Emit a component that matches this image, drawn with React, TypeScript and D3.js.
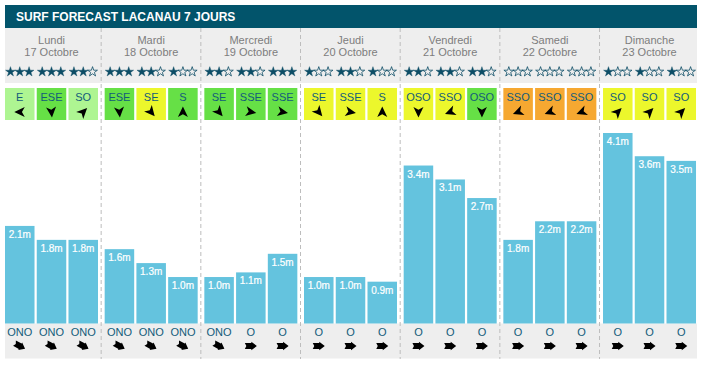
import React from "react";
import * as d3 from "d3";

const title = "SURF FORECAST LACANAU 7 JOURS";
const days = ["Lundi", "Mardi", "Mercredi", "Jeudi", "Vendredi", "Samedi", "Dimanche"];
const dates = ["17 Octobre", "18 Octobre", "19 Octobre", "20 Octobre", "21 Octobre", "22 Octobre", "23 Octobre"];
const slots = [0, 1, 2];
const waveHeights = [2.1, 1.8, 1.8, 1.6, 1.3, 1.0, 1.0, 1.1, 1.5, 1.0, 1.0, 0.9, 3.4, 3.1, 2.7, 1.8, 2.2, 2.2, 4.1, 3.6, 3.5];
const starRatings = [3, 3, 2, 3, 2, 1, 2, 2, 3, 1, 2, 1, 2, 2, 2, 0, 0, 0, 1, 1, 1];
const windDirs = ["E", "ESE", "SO", "ESE", "SE", "S", "SE", "SSE", "SSE", "SE", "SSE", "S", "OSO", "SSO", "OSO", "SSO", "SSO", "SSO", "SO", "SO", "SO"];
const windLevels = [0, 1, 0, 1, 2, 1, 1, 1, 1, 2, 2, 2, 2, 2, 1, 3, 3, 3, 2, 2, 2];
const swellDirs = ["ONO", "ONO", "ONO", "ONO", "ONO", "ONO", "ONO", "O", "O", "O", "O", "O", "O", "O", "O", "O", "O", "O", "O", "O", "O"];

const windArrowAngle: Record<string, number> = { E: 270, ESE: 175, SE: 140, S: 0, SSE: 100, OSO: 180, SSO: 250, SO: 45 };
const swellArrowAngle: Record<string, number> = { O: 0, ONO: 28 };
const windColors = ["#aef592", "#66e046", "#ecf72c", "#f6a831"];

const FONT = "'Liberation Sans', Arial, sans-serif";
const X0 = 5, X1 = 697;
const dayStep = 99.67;

export default function App() {
  const xDay = d3.scaleBand<string>().domain(days).range([X0, X0 + 6 * dayStep + 93]).paddingInner(0.0669).paddingOuter(0);
  const xSlot = d3.scaleBand<number>().domain(slots).range([0, xDay.bandwidth()]).paddingInner(0.07).paddingOuter(0);
  const y = d3.scaleLinear().domain([0, 4.1]).range([323.5, 133]);
  const starFull = d3.symbol(d3.symbolStar, 30)()!;
  const starColor = "#0c4d66";
  const textBlue = "#135c7a";

  const cells = waveHeights.map((v, i) => {
    const d = Math.floor(i / 3);
    const s = i % 3;
    const x = (xDay(days[d]) as number) + (xSlot(s) as number);
    return { v, i, d, s, x, w: xSlot.bandwidth() };
  });

  return (
    <svg width={704} height={366} style={{ position: "absolute", left: 0, top: 0 }} fontFamily={FONT}>
      <rect x={0} y={0} width={704} height={366} fill="#fff" />
      <rect x={X0} y={5} width={X1 - X0} height={23} fill="#02546b" />
      <text x={16} y={21} fill="#fff" fontSize={12} fontWeight="bold">{title}</text>
      <rect x={X0} y={28} width={X1 - X0} height={55} fill="#eeeeee" />
      <rect x={X0} y={323.5} width={X1 - X0} height={35} fill="#eeeeee" />
      {days.map((dn, d) => {
        const cx = (xDay(dn) as number) + xDay.bandwidth() / 2;
        return (
          <g key={dn}>
            <text x={cx} y={44} textAnchor="middle" fontSize={11} fill="#7d7d7d">{dn}</text>
            <text x={cx} y={56} textAnchor="middle" fontSize={11} fill="#7d7d7d">{dates[d]}</text>
            {d > 0 && (
              <line x1={(xDay(dn) as number) - 3.5} x2={(xDay(dn) as number) - 3.5} y1={28} y2={359} stroke="#bdbdbd" strokeWidth={1} strokeDasharray="4,3" />
            )}
          </g>
        );
      })}
      {cells.map((c) => {
        const cx = c.x + c.w / 2;
        const rating = starRatings[c.i];
        const wd = windDirs[c.i];
        const sd = swellDirs[c.i];
        return (
          <g key={c.i}>
            {[0, 1, 2].map((k) => (
              <path
                key={k}
                d={starFull}
                transform={`translate(${cx + (k - 1) * 9.3},${71.8})`}
                fill={k < rating ? starColor : "none"}
                stroke={starColor}
                strokeWidth={k < rating ? 0.4 : 0.8}
              />
            ))}
            <rect x={c.x} y={88} width={c.w} height={32} fill={windColors[windLevels[c.i]]} />
            <text x={cx} y={101} textAnchor="middle" fontSize={11} fill={textBlue}>{wd}</text>
            <path d="M0,-5.5 L5,5 L0,2.2 L-5,5 Z" fill="#000" transform={`translate(${cx},112) rotate(${windArrowAngle[wd]})`} />
            <rect x={c.x} y={y(c.v)} width={c.w} height={323.5 - y(c.v)} fill="#64c3de" />
            <text x={cx} y={y(c.v) + 12} textAnchor="middle" fontSize={10} fill="#fff" stroke="#fff" strokeWidth={0.2}>{`${c.v.toFixed(1)}m`}</text>
            <text x={cx} y={335.7} textAnchor="middle" fontSize={11} fill={textBlue}>{sd}</text>
            <path d="M-6,-3 L0.5,-3 L0.5,-4.2 L6,0 L0.5,4.2 L0.5,3 L-6,3 L-4.5,0 Z" fill="#000" transform={`translate(${cx},346) rotate(${swellArrowAngle[sd]})`} />
          </g>
        );
      })}
    </svg>
  );
}
